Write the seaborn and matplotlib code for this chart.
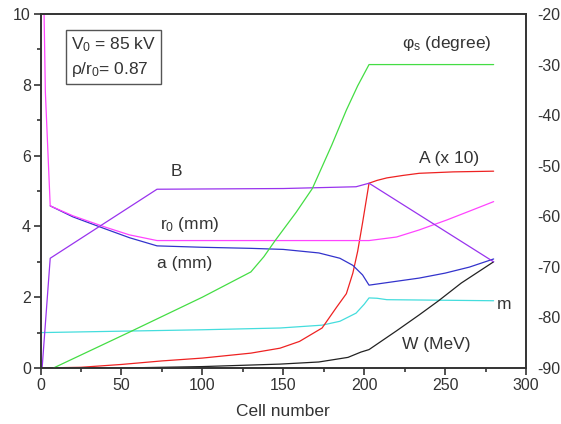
import numpy as np
import pandas as pd
import matplotlib
matplotlib.use("Agg")
import matplotlib.pyplot as plt
import seaborn as sns

# Values (left axis units unless noted)
b_cell = [1, 6, 72, 150, 195, 203, 280]
b_val = [0.0, 3.1, 5.05, 5.07, 5.12, 5.22, 3.0]

r0_cell = [2, 3, 6, 20, 40, 55, 72, 150, 203, 220, 234, 251, 265, 280]
r0_val = [10.6, 7.8, 4.58, 4.3, 3.98, 3.76, 3.6, 3.6, 3.6, 3.7, 3.9, 4.18, 4.43, 4.7]

a_cell = [6, 20, 40, 55, 72, 100, 130, 150, 172, 185, 193, 199, 203, 220, 234, 250, 265, 280]
a_val = [4.58, 4.27, 3.93, 3.68, 3.45, 3.41, 3.38, 3.35, 3.25, 3.1, 2.9, 2.63, 2.34, 2.45, 2.54, 2.68, 2.85, 3.08]

m_cell = [0, 50, 100, 148, 174, 185, 195, 200, 203, 208, 214, 280]
m_val = [1.0, 1.04, 1.08, 1.13, 1.21, 1.32, 1.55, 1.8, 1.98, 1.97, 1.93, 1.9]

a10_cell = [0, 25, 50, 75, 100, 130, 148, 160, 174, 183, 189, 193, 196, 199, 203, 208, 214, 224, 234, 255, 280]
a10_val = [0.0, 0.02, 0.1, 0.2, 0.28, 0.42, 0.56, 0.75, 1.13, 1.72, 2.1, 2.68, 3.3, 4.1, 5.22, 5.3, 5.37, 5.44, 5.5, 5.54, 5.56]

w_cell = [0, 50, 100, 148, 172, 190, 198, 203, 220, 234, 246, 260, 280]
w_val = [0.0, 0.0, 0.04, 0.11, 0.17, 0.3, 0.45, 0.52, 1.05, 1.5, 1.9, 2.4, 3.0]

# synchronous phase, right axis (degree)
phi_cell = [8, 55, 100, 130, 138, 145, 158, 168, 180, 189, 196, 203, 280]
phi_deg = [-90.0, -82.9, -76.0, -71.0, -68.0, -64.8, -59.2, -54.5, -45.9, -39.0, -34.2, -30.0, -30.0]

sns.set_style("ticks")
plt.rcParams["font.family"] = ["Liberation Sans", "DejaVu Sans"]
plt.rcParams["mathtext.fontset"] = "custom"
plt.rcParams["mathtext.rm"] = "Liberation Sans"
plt.rcParams["mathtext.it"] = "Liberation Sans"
plt.rcParams["axes.unicode_minus"] = False

txt = "#333333"
fig = plt.figure(figsize=(5.61, 4.24), dpi=100)
ax = fig.add_axes([40.5 / 561, 56 / 424, 485.5 / 561, 354 / 424])

lw = 0.9
sns.lineplot(x=m_cell, y=m_val, ax=ax, color="#44dddd", lw=lw)
sns.lineplot(x=w_cell, y=w_val, ax=ax, color="#222222", lw=lw)
sns.lineplot(x=a10_cell, y=a10_val, ax=ax, color="#ee2222", lw=lw)
sns.lineplot(x=a_cell, y=a_val, ax=ax, color="#3333cc", lw=lw)
sns.lineplot(x=r0_cell, y=r0_val, ax=ax, color="#ff44ff", lw=lw)
sns.lineplot(x=b_cell, y=b_val, ax=ax, color="#9933ee", lw=lw)

ax.set_xlim(0, 300)
ax.set_ylim(0, 10)
ax.set_xticks(np.arange(0, 301, 50))
ax.set_xticks(np.arange(25, 300, 50), minor=True)
ax.set_yticks(np.arange(0, 11, 2))
ax.set_yticks(np.arange(1, 10, 2), minor=True)
ax.tick_params(axis="both", which="major", direction="out", length=5, width=1.2,
               color="#333333", labelsize=11.5, labelcolor=txt, pad=2)
ax.tick_params(axis="both", which="minor", direction="out", length=3, width=1.2,
               color="#333333")
ax.set_xlabel("Cell number", fontsize=12.5, color=txt, labelpad=8)
ax.set_ylabel("")

ax2 = ax.twinx()
sns.lineplot(x=phi_cell, y=phi_deg, ax=ax2, color="#44dd44", lw=lw)
ax2.set_ylim(-90, -20)
ax2.set_yticks(np.arange(-90, -19, 10))
ax2.tick_params(axis="y", length=0, labelsize=11.5, labelcolor=txt, pad=8)
ax2.set_ylabel("")

for a_ in (ax, ax2):
    for s in a_.spines.values():
        s.set_color("#333333")
        s.set_linewidth(1.2)

fs = 12.5
ax.text(251, 9.18, "φ$_{\\rm s}$ (degree)", fontsize=fs, color=txt, ha="center", va="center")
ax.text(252.5, 5.93, "A (x 10)", fontsize=fs, color=txt, ha="center", va="center")
ax.text(84, 5.54, "B", fontsize=fs, color=txt, ha="center", va="center")
ax.text(92, 4.04, "r$_0$ (mm)", fontsize=fs, color=txt, ha="center", va="center")
ax.text(89, 2.94, "a (mm)", fontsize=fs, color=txt, ha="center", va="center")
ax.text(286.5, 1.78, "m", fontsize=fs, color=txt, ha="center", va="center")
ax.text(244.5, 0.65, "W (MeV)", fontsize=fs, color=txt, ha="center", va="center")

ax.text(0.063, 0.878, "V$_0$ = 85 kV\nρ/r$_0$= 0.87", transform=ax.transAxes,
        fontsize=fs, color=txt, ha="left", va="center", linespacing=1.45,
        bbox=dict(boxstyle="square,pad=0.3", fc="white", ec="#555555", lw=1.0))

fig.savefig("out.png", dpi=100)
